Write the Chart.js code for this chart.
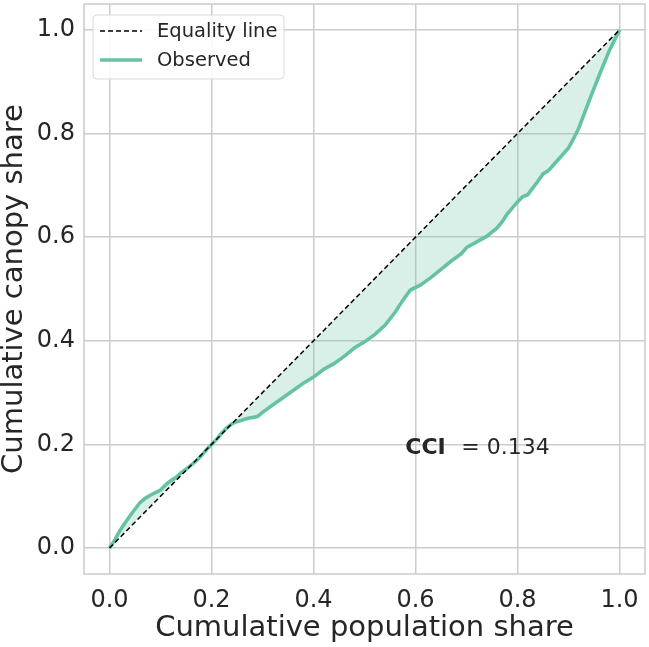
<!DOCTYPE html>
<html>
<head>
<meta charset="utf-8">
<script src="https://cdn.jsdelivr.net/npm/chart.js@4.4.1/dist/chart.umd.min.js"></script>
<style>
  html, body { margin: 0; padding: 0; background: #ffffff; }
  #wrap { width: 649px; height: 647px; }
</style>
</head>
<body>
<div id="wrap"><canvas id="cci_chart" width="649" height="647"></canvas></div>
<script>
    "use strict";

    // cumulative population share (x) and cumulative canopy share (y)
    var popShare = [
        0.000, 0.010, 0.020, 0.030, 0.040, 0.050, 0.060, 0.070, 0.080, 0.090,
        0.100, 0.110, 0.120, 0.130, 0.140, 0.150, 0.160, 0.170, 0.180, 0.190,
        0.200, 0.210, 0.220, 0.230, 0.240, 0.250, 0.270, 0.290, 0.300, 0.320,
        0.340, 0.360, 0.380, 0.400, 0.420, 0.440, 0.460, 0.480, 0.500, 0.520,
        0.540, 0.560, 0.575, 0.590, 0.610, 0.630, 0.650, 0.670, 0.690, 0.700,
        0.720, 0.740, 0.760, 0.770, 0.780, 0.800, 0.810, 0.820, 0.840, 0.850,
        0.860, 0.880, 0.900, 0.910, 0.920, 0.940, 0.960, 0.980, 1.000
    ];
    var canopyShare = [
        0.000, 0.015, 0.033, 0.048, 0.062, 0.075, 0.088, 0.096, 0.102, 0.107,
        0.112, 0.122, 0.130, 0.136, 0.145, 0.152, 0.160, 0.168, 0.178, 0.190,
        0.200, 0.210, 0.222, 0.232, 0.240, 0.244, 0.250, 0.254, 0.262, 0.276,
        0.290, 0.304, 0.318, 0.330, 0.345, 0.356, 0.370, 0.386, 0.398, 0.412,
        0.430, 0.455, 0.478, 0.498, 0.508, 0.522, 0.538, 0.554, 0.568, 0.580,
        0.591, 0.602, 0.618, 0.630, 0.645, 0.668, 0.678, 0.682, 0.708, 0.722,
        0.728, 0.750, 0.772, 0.790, 0.810, 0.862, 0.912, 0.960, 1.000
    ];
    var equalityX = [0, 1];
    var equalityY = [0, 1];
    var tickValues = [0, 0.2, 0.4, 0.6, 0.8, 1.0];
    var cciValue = 0.134;

    var green = "#66c2a5";
    var textColor = "#262626";
    var gridColor = "#cccccc";
    var font = "'DejaVu Sans', sans-serif";

    function toPoints(xs, ys) {
        return xs.map(function (x, i) {
            return { x: x, y: ys[i] };
        });
    }

    function fixedTicks(scale) {
        scale.ticks = tickValues.map(function (v) {
            return { value: v };
        });
    }

    var framePlugin = {
        id: "frame",
        afterDraw: function (chart) {
            var ctx = chart.ctx;
            var a = chart.chartArea;
            ctx.save();
            ctx.strokeStyle = gridColor;
            ctx.lineWidth = 1.5;
            ctx.strokeRect(a.left, a.top, a.right - a.left, a.bottom - a.top);

            // CCI annotation
            var xs = chart.scales.x;
            var ys = chart.scales.y;
            var px = xs.getPixelForValue(0.58);
            var py = ys.getPixelForValue(0.193);
            ctx.fillStyle = textColor;
            ctx.textBaseline = "middle";
            ctx.font = "bold 22px " + font;
            ctx.fillText("CCI", px, py);
            ctx.font = "22px " + font;
            ctx.fillText("= " + cciValue.toFixed(3), px + 56, py);

            // legend box in the upper left corner
            var bx = a.left + 9, by = a.top + 11, bw = 191, bh = 64;
            ctx.beginPath();
            ctx.roundRect(bx, by, bw, bh, 4);
            ctx.fillStyle = "rgba(255,255,255,0.85)";
            ctx.fill();
            ctx.strokeStyle = "#d9d9d9";
            ctx.lineWidth = 1;
            ctx.stroke();

            ctx.font = "19.5px " + font;
            chart.data.datasets.forEach(function (ds, i) {
                var ry = by + 16 + i * 29;
                ctx.beginPath();
                ctx.setLineDash(ds.borderDash || []);
                ctx.strokeStyle = ds.borderColor;
                ctx.lineWidth = ds.borderWidth;
                ctx.moveTo(bx + 7, ry);
                ctx.lineTo(bx + 49, ry);
                ctx.stroke();
                ctx.setLineDash([]);
                ctx.fillStyle = textColor;
                ctx.fillText(ds.label, bx + 64, ry + 1);
            });
            ctx.restore();
        },
    };

    new Chart(document.getElementById("cci_chart"), {
        type: "scatter",
        data: {
            datasets: [
                {
                    label: "Equality line",
                    data: toPoints(equalityX, equalityY),
                    showLine: true,
                    borderColor: "#000000",
                    borderWidth: 1.5,
                    borderDash: [5, 3],
                    pointRadius: 0,
                    fill: false,
                },
                {
                    label: "Observed",
                    data: toPoints(popShare, canopyShare),
                    showLine: true,
                    borderColor: green,
                    borderWidth: 3.6,
                    pointRadius: 0,
                    tension: 0,
                    fill: {
                        target: 0,
                        above: "rgba(102,194,165,0.25)",
                        below: "rgba(102,194,165,0.25)",
                    },
                },
            ],
        },
        options: {
            responsive: false,
            animation: false,
            layout: {
                padding: { left: 0, right: 4, top: 4, bottom: 0 },
            },
            plugins: {
                legend: { display: false },
                tooltip: { enabled: false },
            },
            scales: {
                x: {
                    type: "linear",
                    min: -0.05,
                    max: 1.05,
                    afterBuildTicks: fixedTicks,
                    afterFit: function (scale) {
                        scale.height = 73;
                        scale.paddingLeft = 0;
                        scale.paddingRight = 0;
                    },
                    border: { display: false },
                    grid: { color: gridColor, lineWidth: 1.5, drawTicks: false },
                    ticks: {
                        padding: 12,
                        color: textColor,
                        font: { family: font, size: 24 },
                        callback: function (v) {
                            return v.toFixed(1);
                        },
                    },
                    title: {
                        display: true,
                        text: "Cumulative population share",
                        color: textColor,
                        font: { family: font, size: 29, lineHeight: 1.0 },
                        padding: { top: 0, bottom: 4 },
                    },
                },
                y: {
                    type: "linear",
                    min: -0.05,
                    max: 1.05,
                    afterBuildTicks: fixedTicks,
                    afterFit: function (scale) {
                        scale.width = 84;
                        scale.paddingTop = 0;
                        scale.paddingBottom = 0;
                    },
                    border: { display: false },
                    grid: { color: gridColor, lineWidth: 1.5, drawTicks: false },
                    ticks: {
                        padding: 9,
                        color: textColor,
                        font: { family: font, size: 24 },
                        callback: function (v) {
                            return v.toFixed(1);
                        },
                    },
                    title: {
                        display: true,
                        text: "Cumulative canopy share",
                        color: textColor,
                        font: { family: font, size: 29, lineHeight: 1.0 },
                        padding: 0,
                    },
                },
            },
        },
        plugins: [framePlugin],
    });
</script>
</body>
</html>
